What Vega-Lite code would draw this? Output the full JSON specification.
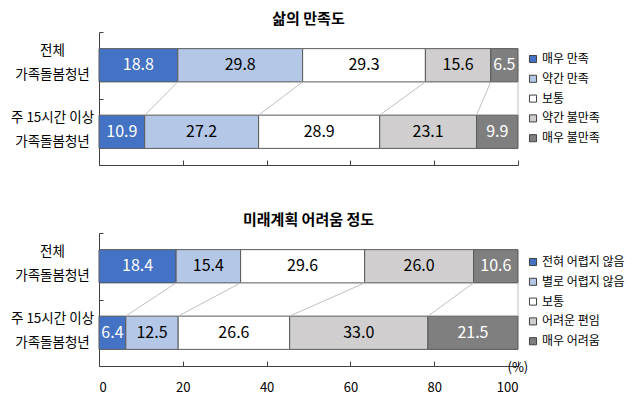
{
  "$schema": "https://vega.github.io/schema/vega-lite/v6.json",
  "padding": {"left": 10, "top": 11, "right": 0, "bottom": 0},
  "datasets": {
    "satisfaction": [
      {"group": "전체 가족돌봄청년", "cat": "매우 만족", "order": 1, "value": 18.8},
      {"group": "전체 가족돌봄청년", "cat": "약간 만족", "order": 2, "value": 29.8},
      {"group": "전체 가족돌봄청년", "cat": "보통", "order": 3, "value": 29.3},
      {"group": "전체 가족돌봄청년", "cat": "약간 불만족", "order": 4, "value": 15.6},
      {"group": "전체 가족돌봄청년", "cat": "매우 불만족", "order": 5, "value": 6.5},
      {"group": "주 15시간 이상 가족돌봄청년", "cat": "매우 만족", "order": 1, "value": 10.9},
      {"group": "주 15시간 이상 가족돌봄청년", "cat": "약간 만족", "order": 2, "value": 27.2},
      {"group": "주 15시간 이상 가족돌봄청년", "cat": "보통", "order": 3, "value": 28.9},
      {"group": "주 15시간 이상 가족돌봄청년", "cat": "약간 불만족", "order": 4, "value": 23.1},
      {"group": "주 15시간 이상 가족돌봄청년", "cat": "매우 불만족", "order": 5, "value": 9.9}
    ],
    "planning": [
      {"group": "전체 가족돌봄청년", "cat": "전혀 어렵지 않음", "order": 1, "value": 18.4},
      {"group": "전체 가족돌봄청년", "cat": "별로 어렵지 않음", "order": 2, "value": 15.4},
      {"group": "전체 가족돌봄청년", "cat": "보통", "order": 3, "value": 29.6},
      {"group": "전체 가족돌봄청년", "cat": "어려운 편임", "order": 4, "value": 26.0},
      {"group": "전체 가족돌봄청년", "cat": "매우 어려움", "order": 5, "value": 10.6},
      {"group": "주 15시간 이상 가족돌봄청년", "cat": "전혀 어렵지 않음", "order": 1, "value": 6.4},
      {"group": "주 15시간 이상 가족돌봄청년", "cat": "별로 어렵지 않음", "order": 2, "value": 12.5},
      {"group": "주 15시간 이상 가족돌봄청년", "cat": "보통", "order": 3, "value": 26.6},
      {"group": "주 15시간 이상 가족돌봄청년", "cat": "어려운 편임", "order": 4, "value": 33.0},
      {"group": "주 15시간 이상 가족돌봄청년", "cat": "매우 어려움", "order": 5, "value": 21.5}
    ]
  },
  "config": {
    "font": "Noto Sans CJK KR",
    "view": {"stroke": null},
    "axis": {"domainColor": "#404040", "tickColor": "#404040", "labelColor": "#000000", "labelFontSize": 13, "grid": false},
    "legend": {"title": null, "symbolType": "square", "symbolSize": 50, "symbolStrokeColor": "#404040", "symbolStrokeWidth": 1, "labelFontSize": 12, "labelColor": "#000000", "rowPadding": 7.8, "labelOffset": 3, "orient": "none", "legendX": 428, "padding": 0},
    "title": {"fontSize": 15, "fontWeight": "bold", "color": "#000000", "offset": 5}
  },
  "spacing": 46,
  "resolve": {"scale": {"color": "independent"}},
  "vconcat": [
    {
      "title": "삶의 만족도",
      "width": 419,
      "height": 133,
      "data": {"name": "satisfaction"},
      "transform": [
        {"stack": "value", "groupby": ["group"], "sort": [{"field": "order", "order": "ascending"}], "as": ["x0", "x1"]}
      ],
      "resolve": {"scale": {"y": "independent"}},
      "layer": [
        {
          "mark": {"type": "bar", "stroke": "#595959", "strokeWidth": 1},
          "encoding": {
            "x": {"field": "x0", "type": "quantitative", "scale": {"domain": [0, 100]},
                  "axis": {"title": null, "values": [0, 20, 40, 60, 80, 100], "labels": false, "tickSize": -5}},
            "x2": {"field": "x1"},
            "y": {"field": "group", "type": "nominal", "sort": null,
                  "scale": {"paddingInner": 0.5, "paddingOuter": 0.25},
                  "axis": {"title": null, "tickSize": -4, "tickOffset": -33.25, "labelOffset": 18.5,
                           "labelExpr": "[substring(datum.value, 0, lastindexof(datum.value, ' ')), substring(datum.value, lastindexof(datum.value, ' ') + 1)]",
                           "labelAlign": "center", "labelBaseline": "middle", "labelPadding": 51, "labelFontSize": 13.5, "labelLineHeight": 24}},
            "color": {"field": "cat", "type": "nominal",
                      "scale": {"domain": ["매우 만족", "약간 만족", "보통", "약간 불만족", "매우 불만족"],
                                "range": ["#4472C4", "#B4C7E7", "#FFFFFF", "#D0CECE", "#7F7F7F"]},
                      "legend": {"legendY": 21}}
          }
        },
        {
          "mark": {"type": "text", "fontSize": 16},
          "transform": [{"calculate": "(datum.x0 + datum.x1) / 2", "as": "mid"}],
          "encoding": {
            "x": {"field": "mid", "type": "quantitative"},
            "y": {"field": "group", "type": "nominal", "sort": null, "scale": {"type": "band", "paddingInner": 0.5, "paddingOuter": 0.25}, "axis": null},
            "text": {"field": "value", "type": "quantitative", "format": ".1f"},
            "color": {"condition": {"test": "datum.order == 1 || datum.order == 5", "value": "#FFFFFF"}, "value": "#000000"}
          }
        },
        {
          "mark": {"type": "rule", "color": "#BFBFBF", "strokeWidth": 1},
          "transform": [{"pivot": "group", "value": "x1", "groupby": ["cat"]}],
          "encoding": {
            "x": {"field": "전체 가족돌봄청년", "type": "quantitative"},
            "x2": {"field": "주 15시간 이상 가족돌봄청년"},
            "y": {"datum": 0.75, "type": "quantitative", "scale": {"domain": [0, 2], "reverse": true}, "axis": null},
            "y2": {"datum": 1.25}
          }
        }
      ]
    },
    {
      "title": "미래계획 어려움 정도",
      "width": 419,
      "height": 133,
      "data": {"name": "planning"},
      "transform": [
        {"stack": "value", "groupby": ["group"], "sort": [{"field": "order", "order": "ascending"}], "as": ["x0", "x1"]}
      ],
      "resolve": {"scale": {"y": "independent"}},
      "layer": [
        {
          "mark": {"type": "bar", "stroke": "#595959", "strokeWidth": 1},
          "encoding": {
            "x": {"field": "x0", "type": "quantitative", "scale": {"domain": [0, 100]},
                  "axis": {"title": "(%)", "values": [0, 20, 40, 60, 80, 100], "tickSize": -5, "labelPadding": 20,
                           "titleAnchor": "end", "titleAlign": "left", "titleBaseline": "middle", "titleAngle": 0,
                           "titleX": 408, "titleY": 1, "titleFontWeight": "normal", "titleFontSize": 13, "titleColor": "#000000"}},
            "x2": {"field": "x1"},
            "y": {"field": "group", "type": "nominal", "sort": null,
                  "scale": {"paddingInner": 0.5, "paddingOuter": 0.25},
                  "axis": {"title": null, "tickSize": -4, "tickOffset": -33.25, "labelOffset": 18.5,
                           "labelExpr": "[substring(datum.value, 0, lastindexof(datum.value, ' ')), substring(datum.value, lastindexof(datum.value, ' ') + 1)]",
                           "labelAlign": "center", "labelBaseline": "middle", "labelPadding": 51, "labelFontSize": 13.5, "labelLineHeight": 24}},
            "color": {"field": "cat", "type": "nominal",
                      "scale": {"domain": ["전혀 어렵지 않음", "별로 어렵지 않음", "보통", "어려운 편임", "매우 어려움"],
                                "range": ["#4472C4", "#B4C7E7", "#FFFFFF", "#D0CECE", "#7F7F7F"]},
                      "legend": {"legendY": 23}}
          }
        },
        {
          "mark": {"type": "text", "fontSize": 16},
          "transform": [{"calculate": "(datum.x0 + datum.x1) / 2", "as": "mid"}],
          "encoding": {
            "x": {"field": "mid", "type": "quantitative"},
            "y": {"field": "group", "type": "nominal", "sort": null, "scale": {"type": "band", "paddingInner": 0.5, "paddingOuter": 0.25}, "axis": null},
            "text": {"field": "value", "type": "quantitative", "format": ".1f"},
            "color": {"condition": {"test": "datum.order == 1 || datum.order == 5", "value": "#FFFFFF"}, "value": "#000000"}
          }
        },
        {
          "mark": {"type": "rule", "color": "#BFBFBF", "strokeWidth": 1},
          "transform": [{"pivot": "group", "value": "x1", "groupby": ["cat"]}],
          "encoding": {
            "x": {"field": "전체 가족돌봄청년", "type": "quantitative"},
            "x2": {"field": "주 15시간 이상 가족돌봄청년"},
            "y": {"datum": 0.75, "type": "quantitative", "scale": {"domain": [0, 2], "reverse": true}, "axis": null},
            "y2": {"datum": 1.25}
          }
        }
      ]
    }
  ]
}
